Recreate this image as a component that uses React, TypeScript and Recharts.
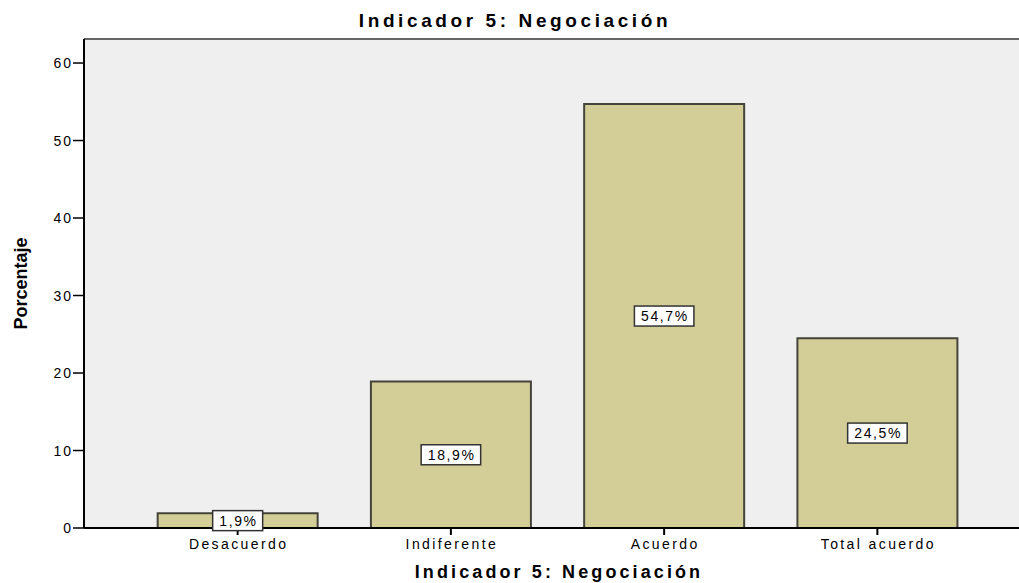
import React from "react";
import {
  BarChart,
  Bar,
  XAxis,
  YAxis,
  CartesianGrid,
  LabelList,
  ReferenceLine,
} from "recharts";

const categories = ["Desacuerdo", "Indiferente", "Acuerdo", "Total acuerdo"];
const percentages = [1.9, 18.9, 54.7, 24.5];
const yTicks = [0, 10, 20, 30, 40, 50, 60];
const yMax = 63.1;

const data = categories.map((name, i) => ({ name, value: percentages[i] }));

const FONT = "Arial, 'Liberation Sans', sans-serif";

// SPSS-style boxed value label in the middle of the bar
function BoxLabel(props: any) {
  const { x, y, width, height, value } = props;
  const text = value.toFixed(1).replace(".", ",") + "%";
  const cx = x + width / 2;
  const cy = y + height / 2;
  const w = text.length * 9.5 + 12;
  const h = 20;
  return (
    <g>
      <rect
        x={cx - w / 2}
        y={cy - h / 2}
        width={w}
        height={h}
        fill="#ffffff"
        stroke="#333333"
        strokeWidth={1.5}
      />
      <text
        x={cx + 0.75}
        y={cy + 5}
        textAnchor="middle"
        fontSize={14}
        fontFamily={FONT}
        fill="#000"
        style={{ letterSpacing: "1.6px" }}
      >
        {text}
      </text>
    </g>
  );
}

function XTick(props: any) {
  const { x, y, payload } = props;
  return (
    <text
      x={x + 1}
      y={y}
      dy={12}
      textAnchor="middle"
      fontSize={14}
      fontFamily={FONT}
      fill="#000"
      style={{ letterSpacing: "2.4px" }}
    >
      {payload.value}
    </text>
  );
}

function YTick(props: any) {
  const { x, y, payload } = props;
  return (
    <text
      x={x + 2}
      y={y}
      dy={5}
      textAnchor="end"
      fontSize={14}
      fontFamily={FONT}
      fill="#000"
      style={{ letterSpacing: "2px" }}
    >
      {payload.value}
    </text>
  );
}

export default function App() {
  return (
    <div
      style={{
        position: "absolute",
        left: 0,
        top: 0,
        width: 1019,
        height: 583,
        background: "#fff",
        overflow: "hidden",
      }}
    >
      <div
        style={{
          position: "absolute",
          top: 10,
          left: 0,
          width: 1030,
          textAlign: "center",
          fontFamily: FONT,
          fontWeight: "bold",
          fontSize: 19,
          letterSpacing: "3.6px",
          whiteSpace: "nowrap",
        }}
      >
        Indicador 5: Negociación
      </div>
      <BarChart
        width={1032}
        height={583}
        data={data}
        margin={{ top: 39, right: 0, bottom: 0, left: 0 }}
        barCategoryGap="12.5%"
        style={{ position: "absolute", left: 0, top: 0 }}
      >
        <CartesianGrid fill="#EFEFEF" horizontal={false} vertical={false} />
        <ReferenceLine y={yMax} stroke="#666" strokeWidth={2} />
        <XAxis
          dataKey="name"
          height={55}
          padding={{ left: 47, right: 48 }}
          axisLine={{ stroke: "#000", strokeWidth: 2 }}
          tickLine={{ stroke: "#000", strokeWidth: 2 }}
          tickSize={7}
          tickMargin={2}
          tick={<XTick />}
          interval={0}
        />
        <YAxis
          domain={[0, yMax]}
          ticks={yTicks}
          width={84}
          axisLine={{ stroke: "#000", strokeWidth: 2 }}
          tickLine={{ stroke: "#000", strokeWidth: 1.5 }}
          tickSize={11}
          tickMargin={2}
          tick={<YTick />}
          label={{
            value: "Porcentaje",
            angle: -90,
            position: "insideLeft",
            offset: 21,
            style: { textAnchor: "middle" },
            fill: "#000",
            fontSize: 18,
            fontWeight: "bold",
            fontFamily: "'Liberation Sans Narrow', 'Arial Narrow', Arial, sans-serif",
          }}
        />
        <Bar
          dataKey="value"
          fill="#D3CE98"
          stroke="#45443a"
          strokeWidth={2}
          isAnimationActive={false}
        >
          <LabelList dataKey="value" content={<BoxLabel />} />
        </Bar>
      </BarChart>
      <div
        style={{
          position: "absolute",
          top: 562,
          left: 84,
          width: 950,
          textAlign: "center",
          fontFamily: FONT,
          fontWeight: "bold",
          fontSize: 18,
          letterSpacing: "3.1px",
          whiteSpace: "nowrap",
        }}
      >
        Indicador 5: Negociación
      </div>
    </div>
  );
}
